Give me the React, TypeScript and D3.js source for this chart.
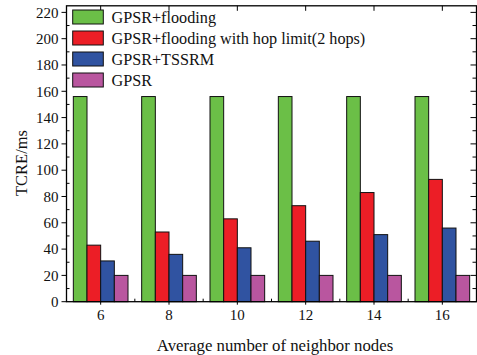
import React from "react";
import * as d3 from "d3";

const categories = [6, 8, 10, 12, 14, 16];
const seriesNames = [
  "GPSR+flooding",
  "GPSR+flooding with hop limit(2 hops)",
  "GPSR+TSSRM",
  "GPSR",
];
const flooding = [156, 156, 156, 156, 156, 156];
const floodingHop = [43, 53, 63, 73, 83, 93];
const tssrm = [31, 36, 41, 46, 51, 56];
const gpsr = [20, 20, 20, 20, 20, 20];
const yTicks = [0, 20, 40, 60, 80, 100, 120, 140, 160, 180, 200, 220];
const colors = ["#6bbf47", "#ec1e26", "#3053a1", "#b9569f"];

export default function App() {
  const W = 477, H = 355;
  const left = 66.5, right = 476.5, top = 5.8, bottom = 301.7;
  const x = d3.scaleLinear().domain([5, 17]).range([left, right]);
  const y = d3.scaleLinear().domain([0, 225]).range([bottom, top]);
  const unit = x(1) - x(0);
  const barW = unit * 0.4;
  const series = [flooding, floodingHop, tssrm, gpsr];
  const font = "'Liberation Serif', 'Times New Roman', serif";
  const minorY = d3.range(10, 225, 20);
  const minorX = [7, 9, 11, 13, 15];

  return (
    <svg width={W} height={H} style={{ position: "absolute", left: 0, top: 0 }} fontFamily={font}>
      <rect x={0} y={0} width={W} height={H} fill="white" />
      {series.map((vals, si) =>
        vals.map((v, ci) => {
          const x0 = x(categories[ci]) + (si - 2) * barW;
          return (
            <rect
              key={`${si}-${ci}`}
              x={x0}
              y={y(v)}
              width={barW}
              height={y(0) - y(v)}
              fill={colors[si]}
              stroke="#111"
              strokeWidth={1}
            />
          );
        })
      )}
      <rect x={left} y={top} width={right - left} height={bottom - top} fill="none" stroke="#000" strokeWidth={1.3} />
      {yTicks.map((t) => (
        <g key={`yl${t}`}>
          <line x1={left - 5} x2={left} y1={y(t)} y2={y(t)} stroke="#000" strokeWidth={1} />
          <line x1={right - 6} x2={right} y1={y(t)} y2={y(t)} stroke="#000" strokeWidth={1} />
          <text x={left - 8} y={y(t)} dy="0.35em" textAnchor="end" fontSize={15} fill="#111">
            {t}
          </text>
        </g>
      ))}
      {minorY.map((t) => (
        <g key={`ym${t}`}>
          <line x1={left} x2={left + 3} y1={y(t)} y2={y(t)} stroke="#000" strokeWidth={1} />
          <line x1={right - 4} x2={right} y1={y(t)} y2={y(t)} stroke="#000" strokeWidth={1} />
        </g>
      ))}
      {categories.map((c) => (
        <g key={`x${c}`}>
          <line x1={x(c)} x2={x(c)} y1={bottom} y2={bottom + 3} stroke="#000" strokeWidth={1} />
          <line x1={x(c)} x2={x(c)} y1={top} y2={top + 5} stroke="#000" strokeWidth={1} />
          <text x={x(c)} y={320} textAnchor="middle" fontSize={15} fill="#111">
            {c}
          </text>
        </g>
      ))}
      {minorX.map((c) => (
        <line key={`xm${c}`} x1={x(c)} x2={x(c)} y1={bottom - 3} y2={bottom} stroke="#000" strokeWidth={1} />
      ))}
      {seriesNames.map((name, i) => {
        const ly = 10 + i * 21;
        return (
          <g key={name}>
            <rect x={72.7} y={ly} width={30.6} height={14} fill={colors[i]} stroke="#111" strokeWidth={1} />
            <text x={111.5} y={ly + 7} dy="0.35em" fontSize={16.2} fill="#111">
              {name}
            </text>
          </g>
        );
      })}
      <text x={275} y={351} textAnchor="middle" fontSize={16.8} fill="#111">
        Average number of neighbor nodes
      </text>
      <text transform={`translate(27,163) rotate(-90)`} textAnchor="middle" fontSize={16.5} fill="#111">
        TCRE/ms
      </text>
    </svg>
  );
}
